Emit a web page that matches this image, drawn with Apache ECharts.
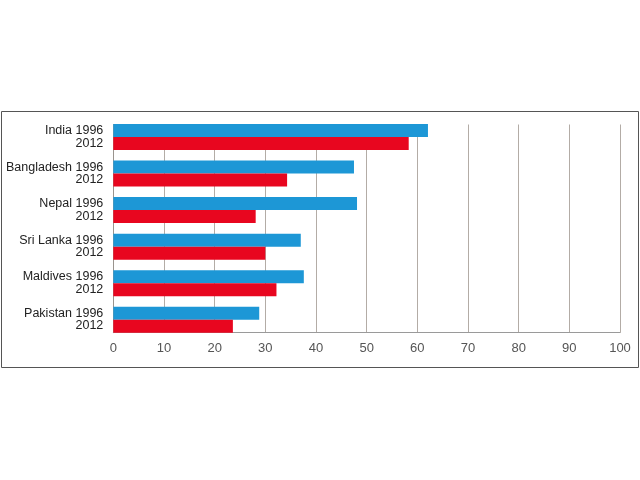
<!DOCTYPE html>
<html>
<head>
<meta charset="utf-8">
<script src="https://cdn.jsdelivr.net/npm/echarts@6/dist/echarts.min.js"></script>
<style>
  html, body { margin: 0; padding: 0; background: #fff; }
  #main { width: 640px; height: 480px; }
</style>
</head>
<body>
<div id="main"></div>
<script>
// countries, top to bottom
const countries = ['India', 'Bangladesh', 'Nepal', 'Sri Lanka', 'Maldives', 'Pakistan']
const values1996 = [62.1, 47.5, 48.1, 37.0, 37.6, 28.8]
const values2012 = [58.3, 34.3, 28.1, 30.0, 32.2, 23.6]
const xTicks = [0, 10, 20, 30, 40, 50, 60, 70, 80, 90, 100]

const myChart = echarts.init(document.getElementById('main'))

const font = 'Liberation Sans, Arial, sans-serif'

myChart.setOption({
    animation: false,
    // outer frame
    graphic: [{
        type: 'rect',
        shape: { x: 1.5, y: 111.5, width: 637, height: 256 },
        style: { fill: 'none', stroke: '#555', lineWidth: 1 },
        z: -10
    }],
    grid: [
        // bars + labels (band padding extends past the axis)
        { left: 113.3, right: 20, top: 118.65, bottom: 141.95 },
        // x axis, gridlines and left axis line
        { left: 113.3, right: 20, top: 124.5, bottom: 147.3 }
    ],
    xAxis: [{
        gridIndex: 0,
        type: 'value',
        min: xTicks[0],
        max: xTicks[xTicks.length - 1],
        show: false
    }, {
        gridIndex: 1,
        type: 'value',
        min: xTicks[0],
        max: xTicks[xTicks.length - 1],
        interval: 10,
        axisLine: { show: true, lineStyle: { color: '#9a9a9a', width: 1 } },
        axisTick: { show: false },
        axisLabel: { color: '#555', fontFamily: font, fontSize: 13, margin: 9 },
        splitLine: { show: true, lineStyle: { color: '#b3aca6', width: 1 } }
    }],
    yAxis: [{
        gridIndex: 0,
        type: 'category',
        inverse: true,
        data: countries,
        axisLine: { show: false },
        axisTick: { show: false },
        axisLabel: {
            formatter: (name) => `${name} 1996\n2012`,
            align: 'right',
            color: '#222',
            fontFamily: font,
            fontSize: 12.5,
            lineHeight: 12.5,
            margin: 10
        }
    }, {
        gridIndex: 1,
        type: 'value',
        axisLine: { show: true, lineStyle: { color: '#9a948e', width: 1 } },
        axisTick: { show: false },
        axisLabel: { show: false },
        splitLine: { show: false }
    }],
    series: [{
        name: '1996',
        type: 'bar',
        data: values1996,
        barWidth: 13,
        barGap: '0%',
        itemStyle: { color: '#1d97d6' }
    }, {
        name: '2012',
        type: 'bar',
        data: values2012,
        barWidth: 13,
        barGap: '0%',
        itemStyle: { color: '#e8061f' }
    }]
})
</script>
</body>
</html>
